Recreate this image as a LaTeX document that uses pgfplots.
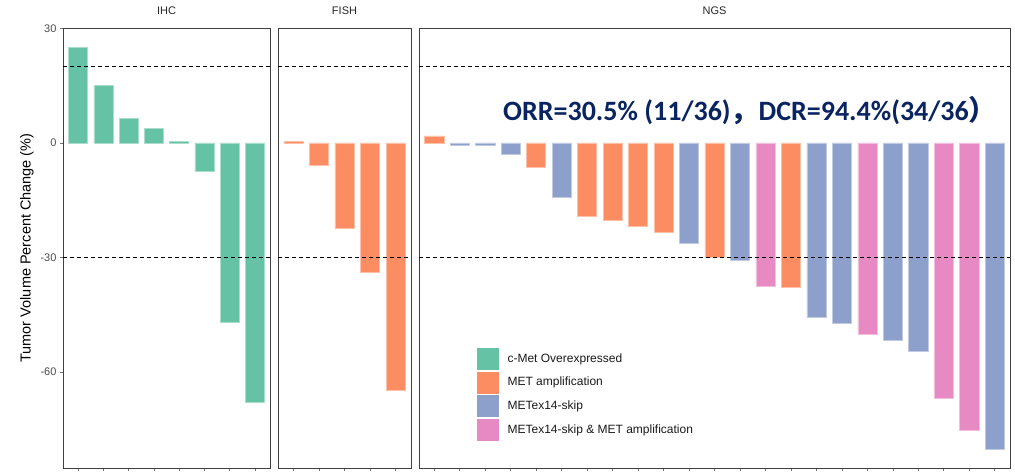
\documentclass[border=0pt]{standalone}
\usepackage{fontspec}
\setmainfont{Liberation Sans}
\newfontfamily\carlito{Carlito}
\newfontfamily\cjk{Noto Sans CJK SC}
\usepackage{pgfplots}
\pgfplotsset{compat=1.18}
\definecolor{cgreen}{HTML}{66C2A5}
\definecolor{corange}{HTML}{FC8D62}
\definecolor{cblue}{HTML}{8DA0CB}
\definecolor{cpink}{HTML}{E78AC3}
\definecolor{navy}{HTML}{0A2461}
\pgfplotsset{
  panel/.style={
    scale only axis, height=440pt, ymin=-85.2, ymax=30.1, xmin=0.4,
    axis line style={black!75, line width=0.8pt},
    tick style={black!55, line width=0.6pt},
    major tick length=3pt, tick align=outside,
    xtick pos=bottom, ytick pos=left,
    xticklabels={},
    title style={at={(0.5,1)}, anchor=center, yshift=11.5pt, font=\fontsize{11}{12}\selectfont, text=black!85},
    clip=false,
  },
  barsty/.style={ybar, bar width=0.75, bar shift=0pt, fill=#1, draw=#1!55!white, line width=0.5pt},
  refline/.style={sharp plot, black, dash pattern=on 4pt off 3pt, line width=0.7pt, forget plot},
}
\begin{document}
\begin{tikzpicture}
\path[use as bounding box] (0pt,0pt) rectangle (1015pt,473pt);
% IHC
\begin{axis}[panel, at={(63pt,5pt)}, anchor=south west, width=207pt, xmax=8.6,
  title={IHC}, xtick={1,...,8},
  ytick={-60,-30,0,30}, yticklabels={-60,-30,0,30},
  yticklabel style={font=\fontsize{11}{12}\selectfont, text=black!70}]
\addplot[barsty=cgreen] coordinates {(1,25.1) (2,15.1) (3,6.4) (4,3.8) (5,0.4) (6,-7.5) (7,-46.9) (8,-67.9)};
\addplot[refline] coordinates {(0.4,20) (8.6,20)};
\addplot[refline] coordinates {(0.4,-30) (8.6,-30)};
\end{axis}
% FISH
\begin{axis}[panel, at={(278pt,5pt)}, anchor=south west, width=133pt, xmax=5.6,
  title={FISH}, xtick={1,...,5}, ytick=\empty]
\addplot[barsty=corange] coordinates {(1,0.4) (2,-5.8) (3,-22.3) (4,-33.9) (5,-64.9)};
\addplot[refline] coordinates {(0.4,20) (5.6,20)};
\addplot[refline] coordinates {(0.4,-30) (5.6,-30)};
\end{axis}
% NGS
\begin{axis}[panel, at={(419pt,5pt)}, anchor=south west, width=591pt, xmax=23.6,
  title={NGS}, xtick={1,...,23}, ytick=\empty,
  legend image code/.code={\path[#1, draw=white, line width=0.6pt] (0pt,-11.5pt) rectangle (23pt,11.5pt);},
  legend cell align=left,
  legend style={at={(0.0964,0.275)}, anchor=north west, draw=none, fill=none,
    inner sep=0pt, outer sep=0pt, row sep=0pt,
    font=\fontsize{12}{14}\selectfont, text=black!90,
    /tikz/every odd column/.append style={column sep=8pt},
    nodes={anchor=west, inner sep=0pt, minimum height=23pt}}]
\addlegendimage{fill=cgreen}
\addlegendentry{c-Met Overexpressed}
\addplot[barsty=corange] coordinates {(1,1.8) (5,-6.4) (7,-19.1) (8,-20.3) (9,-21.9) (10,-23.3) (12,-29.9) (15,-37.8)};
\addlegendentry{MET amplification}
\addplot[barsty=cblue] coordinates {(2,-0.5) (3,-0.5) (4,-3.1) (6,-14.2) (11,-26.3) (13,-30.8) (16,-45.6) (17,-47.4) (19,-51.8) (20,-54.6) (23,-80.2)};
\addlegendentry{METex14-skip}
\addplot[barsty=cpink] coordinates {(14,-37.6) (18,-50.2) (21,-67.0) (22,-75.3)};
\addlegendentry{METex14-skip \& MET amplification}
\addplot[refline] coordinates {(0.4,20) (23.6,20)};
\addplot[refline] coordinates {(0.4,-30) (23.6,-30)};
\end{axis}
\node[rotate=90, font=\fontsize{14.5}{16}\selectfont] at (27pt,225pt) {Tumor Volume Percent Change (\%)};
\node[font=\carlito\bfseries\fontsize{28}{30}\selectfont, text=navy] at (750pt,362pt) {ORR=30.5\% (11/36){\cjk ，}DCR=94.4\%(34/36{\cjk ）}};
\end{tikzpicture}
\end{document}
